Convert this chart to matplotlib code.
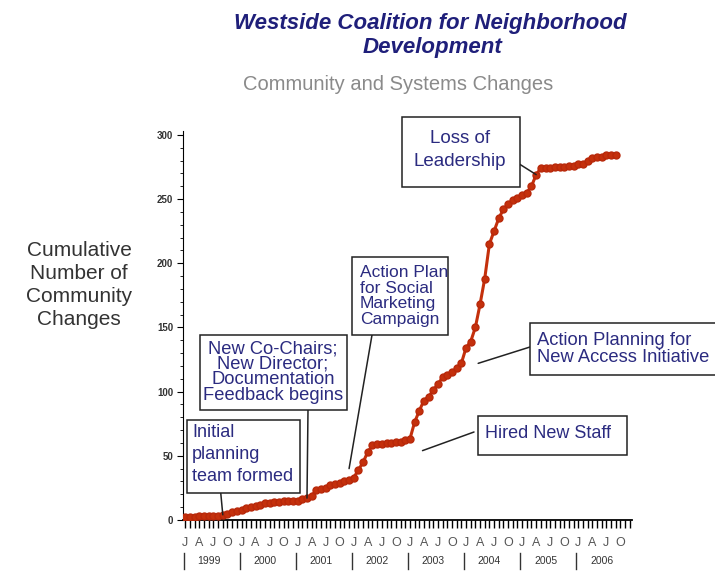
import numpy as np
import matplotlib
matplotlib.use('Agg')
import matplotlib.pyplot as plt
from matplotlib.patches import Rectangle

plt.rcParams['font.family'] = ['Liberation Sans', 'DejaVu Sans']

# monthly cumulative counts, month 0 = Jan 1999
values = [2, 2, 2, 3, 3, 3, 3, 3, 4, 5,
          6, 7, 8, 9, 10, 11, 12, 13, 13, 14,
          14, 15, 15, 15, 15, 16, 17, 19, 23, 24,
          25, 27, 28, 29, 30, 31, 33, 39, 45, 53,
          58, 59, 59, 60, 60, 61, 61, 62, 63, 76,
          85, 93, 96, 101, 106, 111, 113, 115, 118, 122,
          134, 139, 150, 168, 188, 215, 225, 235, 242, 246,
          249, 251, 253, 255, 260, 269, 274, 274, 274, 275,
          275, 275, 276, 276, 277, 277, 280, 282, 283, 283,
          284, 284, 284]
months = np.arange(len(values))
quarter_labels = ['J', 'A', 'J', 'O'] * 8
years = ['1999', '2000', '2001', '2002', '2003', '2004', '2005', '2006']

navy = '#2b2b80'

fig = plt.figure(figsize=(7.15, 5.72), dpi=100)
ax = fig.add_axes([0.256, 0.091, 0.628, 0.680])

ax.plot(months, values, color='#c4300c', lw=2.2, marker='o', ms=5,
        markeredgecolor='#b8280a', zorder=3)

ax.set_xlim(-0.5, 95.5)
ax.set_ylim(0, 303)
ax.spines['top'].set_visible(False)
ax.spines['right'].set_visible(False)
ax.spines['bottom'].set_linewidth(1.3)
ax.set_xticks(np.arange(0, 96))
ax.set_xticklabels([])
ax.tick_params(axis='x', length=6, width=1.0)
ax.set_yticks(np.arange(0, 301, 50))
ax.set_yticks(np.arange(0, 301, 10), minor=True)
ax.tick_params(axis='y', which='major', length=4, labelsize=7, pad=3)
ax.tick_params(axis='y', which='minor', length=2.5)
for t in ax.get_yticklabels():
    t.set_fontweight('bold')
    t.set_color('#333333')

# quarter and year labels under the axis
tr = ax.get_xaxis_transform()
for i, lab in enumerate(quarter_labels):
    ax.text(i * 3, -0.06, lab, transform=tr, ha='center', va='center',
            fontsize=9, color='#555555')
for k, yr in enumerate(years):
    ax.plot([12 * k - 0.4, 12 * k - 0.4], [-0.085, -0.125], transform=tr,
            color='#333333', lw=1, clip_on=False)
    ax.text(12 * k + 5, -0.106, yr, transform=tr, ha='center', va='center',
            fontsize=7.5, color='#333333')

# titles
fig.text(430 / 715, 1 - 23 / 572, 'Westside Coalition for Neighborhood',
         ha='center', va='center', fontsize=16, fontweight='bold',
         fontstyle='italic', color='#1f1f7a')
fig.text(432 / 715, 1 - 48 / 572, 'Development', ha='center', va='center',
         fontsize=16, fontweight='bold', fontstyle='italic', color='#1f1f7a')
fig.text(398 / 715, 1 - 85 / 572, 'Community and Systems Changes',
         ha='center', va='center', fontsize=14.5, color='#8a8a8a')
fig.text(79 / 715, 1 - 285 / 572, 'Cumulative\nNumber of\nCommunity\nChanges',
         ha='center', va='center', fontsize=15, color='#333333',
         linespacing=1.28)


def box(x0, y0, x1, y1):
    fig.add_artist(Rectangle((x0 / 715, 1 - y1 / 572), (x1 - x0) / 715,
                             (y1 - y0) / 572, transform=fig.transFigure,
                             fill=True, facecolor='white', edgecolor='#222222',
                             lw=1.1, zorder=5))


def label(x, y, s, size, ha='left', ls=1.0):
    fig.text(x / 715, 1 - y / 572, s, ha=ha, va='top', fontsize=size,
             color=navy, linespacing=ls, zorder=6)


def leader(x, y, xy):
    ax.annotate('', xy=xy, xycoords='data', xytext=(x / 715, 1 - y / 572),
                textcoords='figure fraction',
                arrowprops=dict(arrowstyle='-', color='#222222', lw=1.1,
                                shrinkA=0, shrinkB=0), zorder=4)


box(187, 420, 300, 493)
label(192, 424, 'Initial\nplanning\nteam formed', 13, ls=1.38)
leader(220, 485, (months[8], values[8]))

box(200, 335, 347, 410)
label(273, 340, 'New Co-Chairs;\nNew Director;\nDocumentation\nFeedback begins',
      13.2, ha='center', ls=0.9)
leader(308, 410, (months[26], values[26]))

box(352, 257, 448, 335)
label(360, 265, 'Action Plan\nfor Social\nMarketing\nCampaign', 12.5, ls=1.05)
leader(372, 335, (months[35], values[35] + 9))

box(402, 117, 520, 187)
label(460, 130, 'Loss of\nLeadership', 13.5, ha='center', ls=1.5)
leader(513, 160, (months[75], values[75]))

box(530, 323, 718, 375)
label(537, 332, 'Action Planning for\nNew Access Initiative', 13.2, ls=1.0)
leader(530, 347, (62.6, 122))

box(478, 416, 627, 455)
label(485, 425, 'Hired New Staff', 13)
leader(474, 432, (50.7, 54))

fig.savefig('out.png', dpi=100)
